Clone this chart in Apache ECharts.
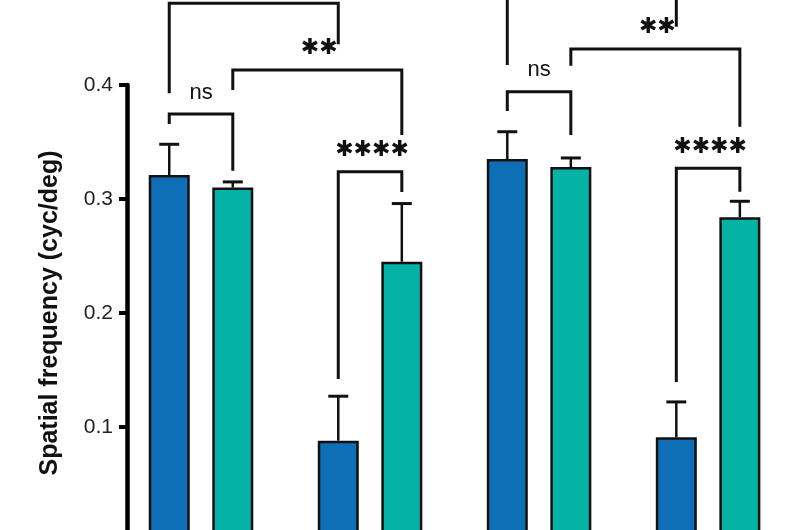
<!DOCTYPE html>
<html>
<head>
<meta charset="utf-8">
<script src="https://cdn.jsdelivr.net/npm/echarts@6/dist/echarts.min.js"></script>
<style>html,body{margin:0;padding:0;background:#fff}#c{width:800px;height:530px}</style>
</head>
<body>
<div id="c"></div>
<script>
// ---- data ----
const categories = ['Condition 1', 'Condition 2', 'Condition 3', 'Condition 4'];
const blueMean = [0.321, 0.088, 0.335, 0.091];
const blueSem  = [0.027, 0.039, 0.024, 0.031];
const tealMean = [0.310, 0.245, 0.328, 0.284];
const tealSem  = [0.005, 0.051, 0.008, 0.014];
const yTicks = [0, 0.1, 0.2, 0.3, 0.4];
const yAxisTitle = 'Spatial frequency (cyc/deg)';
// brackets: [left bar index, right bar index, top level, left leg end, right leg end]
const bracketLevels = [
  [0, 1, 0.3746, 0.3658, 0.3248],
  [0, 2, 0.4717, 0.3927, 0.4357],
  [1, 3, 0.4132, 0.3956, 0.3561],
  [2, 3, 0.3239, 0.1421, 0.3061],
  [4, 5, 0.3941, 0.3772, 0.3561],
  [4, 6, 0.4921, 0.4175, 0.4511],
  [5, 7, 0.4316, 0.4169, 0.3634],
  [6, 7, 0.3269, 0.1395, 0.3064]
];
const bracketLabels = ['ns', '', '**', '****', 'ns', '', '**', '****'];

// ---- styles ----
const BLUE = '#0f6fb6';
const TEAL = '#04b2a6';
const BAR_W = 41;
const BAR_GAP = 0.55;
const HALF = BAR_W * (1 + BAR_GAP) / 2;
const FONT = '"Liberation Sans", Arial, sans-serif';

const chart = echarts.init(document.getElementById('c'), null, {renderer: 'canvas'});

function barX(api, i) {
  return api.coord([Math.floor(i / 2), 0])[0] + (i % 2 ? HALF : -HALF);
}

function errSeries(means, sems, side) {
  return {
    type: 'custom',
    clip: false,
    z: 5,
    data: means.map((m, i) => [i, m, sems[i]]),
    renderItem: function (params, api) {
      const c = api.value(0), m = api.value(1), s = api.value(2);
      const p0 = api.coord([c, m]);
      const p1 = api.coord([c, m + s]);
      const x = p0[0] + side * HALF;
      return {
        type: 'group',
        children: [
          {type: 'line', shape: {x1: x, y1: p0[1], x2: x, y2: p1[1]}, style: {stroke: '#111', lineWidth: 2.5}},
          {type: 'line', shape: {x1: x - 10, y1: p1[1], x2: x + 10, y2: p1[1]}, style: {stroke: '#111', lineWidth: 3}}
        ]
      };
    }
  };
}

const option = {
  animation: false,
  backgroundColor: '#fff',
  grid: {left: 116.5, right: 7.4, top: 85, height: 456, containLabel: false, outerBoundsMode: 'none'},
  xAxis: {
    type: 'category',
    data: categories,
    axisLine: {show: false},
    axisTick: {show: false},
    axisLabel: {show: false}
  },
  yAxis: {
    type: 'value',
    min: yTicks[0],
    max: yTicks[yTicks.length - 1],
    interval: 0.1,
    offset: -10.5,
    splitLine: {show: false},
    axisLine: {show: true, lineStyle: {color: '#000', width: 4.5}},
    axisTick: {show: true, length: 8, lineStyle: {color: '#000', width: 4}},
    axisLabel: {
      margin: 14, fontSize: 21, color: '#222', fontFamily: FONT,
      formatter: v => v.toFixed(1)
    },
    name: yAxisTitle,
    nameLocation: 'middle',
    nameRotate: 90,
    nameGap: 64,
    nameTextStyle: {fontSize: 25, fontWeight: 'bold', color: '#111', fontFamily: FONT}
  },
  series: [
    {
      type: 'bar', data: blueMean, barWidth: BAR_W, barGap: (BAR_GAP * 100) + '%',
      itemStyle: {color: BLUE, borderColor: '#111', borderWidth: 2.5}
    },
    {
      type: 'bar', data: tealMean, barWidth: BAR_W,
      itemStyle: {color: TEAL, borderColor: '#111', borderWidth: 2.5}
    },
    errSeries(blueMean, blueSem, -1),
    errSeries(tealMean, tealSem, 1),
    {
      type: 'custom',
      clip: false,
      z: 6,
      data: bracketLevels,
      renderItem: function (params, api) {
        const b = bracketLevels[params.dataIndex];
        const xl = barX(api, b[0]), xr = barX(api, b[1]);
        const yTop = api.coord([0, b[2]])[1];
        const yL = api.coord([0, b[3]])[1];
        const yR = api.coord([0, b[4]])[1];
        const label = bracketLabels[params.dataIndex];
        const stars = label.indexOf('*') >= 0;
        const children = [
          {type: 'polyline', shape: {points: [[xl, yL], [xl, yTop], [xr, yTop], [xr, yR]]},
           style: {stroke: '#111', lineWidth: 3, fill: null}}
        ];
        if (label) {
          children.push({
            type: 'text',
            x: (xl + xr) / 2 + (stars ? 2 : 0),
            y: yTop - 21.5,
            style: {
              text: stars ? label.replace(/\*/g, '\u2731') : label,
              fontSize: 22,
              fontWeight: stars ? 'bold' : 'normal',
              fontFamily: stars ? '"DejaVu Sans", sans-serif' : FONT,
              fill: '#111',
              align: 'center',
              verticalAlign: 'middle'
            }
          });
        }
        return {type: 'group', children: children};
      }
    }
  ]
};
chart.setOption(option);
</script>
</body>
</html>
